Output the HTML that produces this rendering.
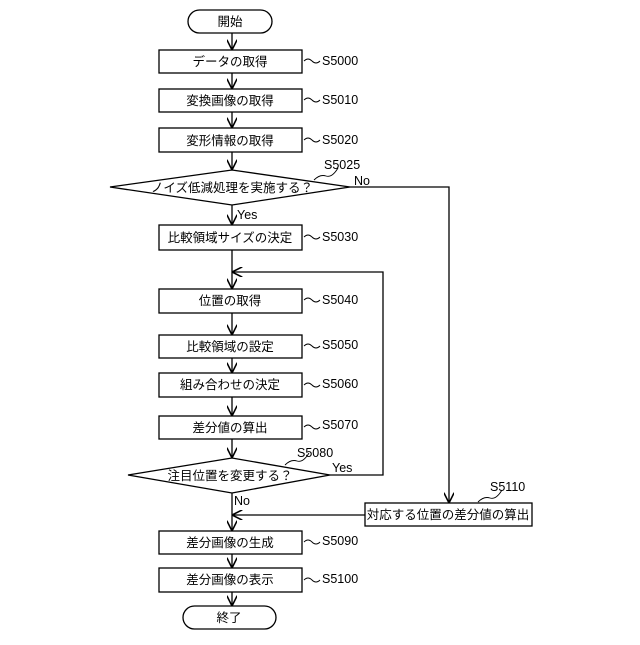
<!DOCTYPE html>
<html><head><meta charset="utf-8"><style>
body{margin:0;background:#fff}
svg text{font-family:"Liberation Sans","Noto Sans CJK JP",sans-serif;font-size:12.5px;fill:#000}
</style></head><body>
<svg width="640" height="640" viewBox="0 0 640 640" xmlns="http://www.w3.org/2000/svg">
<defs><marker id="a" viewBox="0 0 10 10" refX="10" refY="5" markerWidth="8" markerHeight="8" orient="auto"><path d="M0,0 L10,5 L0,10" fill="none" stroke="#000" stroke-width="1.5"/></marker></defs>
<g fill="none" stroke="#000" stroke-width="1.3">
<rect x="188" y="10" width="84" height="23" rx="11.5"/>
<rect x="159" y="50" width="143" height="23"/>
<rect x="159" y="89" width="143" height="23"/>
<rect x="159" y="128" width="143" height="24"/>
<polygon points="110,187 232,170 350,187 232,205"/>
<rect x="159" y="225" width="143" height="25"/>
<rect x="159" y="289" width="143" height="24"/>
<rect x="159" y="335" width="143" height="23"/>
<rect x="159" y="373" width="143" height="24"/>
<rect x="159" y="416" width="143" height="23"/>
<polygon points="128,475 232,458 330,475 232,493"/>
<rect x="365" y="503" width="167" height="23"/>
<rect x="159" y="531" width="143" height="23"/>
<rect x="159" y="568" width="143" height="24"/>
<rect x="183" y="606" width="93" height="23" rx="11.5"/>
<g marker-end="url(#a)">
<line x1="232" y1="33" x2="232" y2="50"/>
<line x1="232" y1="73" x2="232" y2="89"/>
<line x1="232" y1="112" x2="232" y2="128"/>
<line x1="232" y1="152" x2="232" y2="170"/>
<line x1="232" y1="205" x2="232" y2="225"/>
<line x1="232" y1="250" x2="232" y2="289"/>
<line x1="232" y1="313" x2="232" y2="335"/>
<line x1="232" y1="358" x2="232" y2="373"/>
<line x1="232" y1="397" x2="232" y2="416"/>
<line x1="232" y1="439" x2="232" y2="458"/>
<line x1="232" y1="493" x2="232" y2="531"/>
<line x1="232" y1="554" x2="232" y2="568"/>
<line x1="232" y1="592" x2="232" y2="606"/>
<polyline points="330,475 383,475 383,272 232,272"/>
<polyline points="350,187 449,187 449,503"/>
<line x1="365" y1="515" x2="232" y2="515"/>
</g>
<g stroke-width="0.9">
<path d="M304,61 q4,-4 8,0 t8,0"/><path d="M304,100 q4,-4 8,0 t8,0"/><path d="M304,140 q4,-4 8,0 t8,0"/>
<path d="M304,237 q4,-4 8,0 t8,0"/><path d="M304,300 q4,-4 8,0 t8,0"/><path d="M304,346 q4,-4 8,0 t8,0"/>
<path d="M304,385 q4,-4 8,0 t8,0"/><path d="M304,427 q4,-4 8,0 t8,0"/><path d="M304,542 q4,-4 8,0 t8,0"/>
<path d="M304,580 q4,-4 8,0 t8,0"/>
<path d="M314,180 q6,-6 12,-4 t12,-8"/><path d="M285,465 q6,-6 12,-4 t12,-8"/><path d="M478,502 q6,-6 12,-4 t12,-8"/>
</g>
</g>
<g text-anchor="middle">
<text x="230" y="26">開始</text>
<text x="230" y="66">データの取得</text>
<text x="230" y="105">変換画像の取得</text>
<text x="230" y="145">変形情報の取得</text>
<text x="232" y="192">ノイズ低減処理を実施する？</text>
<text x="230" y="242">比較領域サイズの決定</text>
<text x="230" y="305">位置の取得</text>
<text x="230" y="351">比較領域の設定</text>
<text x="230" y="389">組み合わせの決定</text>
<text x="230" y="432">差分値の算出</text>
<text x="230" y="480">注目位置を変更する？</text>
<text x="448" y="519">対応する位置の差分値の算出</text>
<text x="230" y="547">差分画像の生成</text>
<text x="230" y="584">差分画像の表示</text>
<text x="229" y="622">終了</text>
</g>
<text x="322" y="65">S5000</text><text x="322" y="104">S5010</text><text x="322" y="144">S5020</text>
<text x="324" y="169">S5025</text><text x="354" y="185">No</text><text x="237" y="219">Yes</text>
<text x="322" y="241">S5030</text><text x="322" y="304">S5040</text><text x="322" y="349">S5050</text>
<text x="322" y="388">S5060</text><text x="322" y="429">S5070</text><text x="297" y="457">S5080</text>
<text x="332" y="472">Yes</text><text x="234" y="505">No</text><text x="490" y="491">S5110</text>
<text x="322" y="545">S5090</text><text x="322" y="583">S5100</text>
</svg>
</body></html>
